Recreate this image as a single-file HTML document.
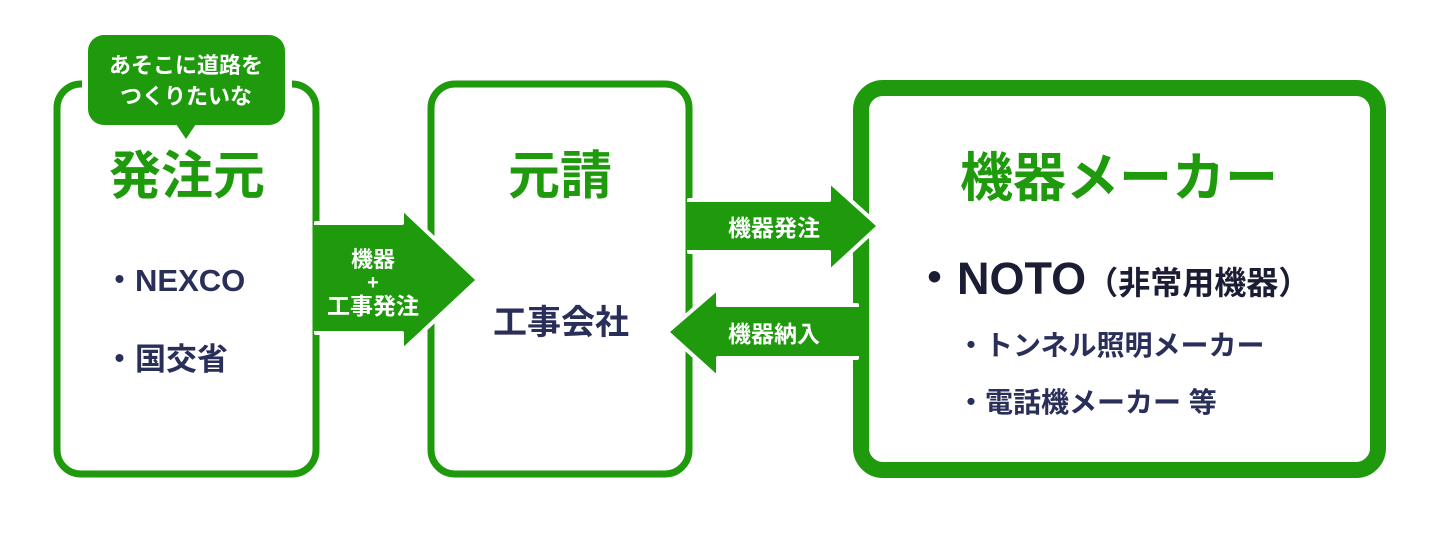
<!DOCTYPE html>
<html><head><meta charset="utf-8"><style>
body{margin:0;background:#fff;width:1440px;height:533px;overflow:hidden}
svg text{font-family:"Liberation Sans","Noto Sans CJK JP",sans-serif;font-weight:bold}
</style></head><body>
<svg width="1440" height="533" viewBox="0 0 1440 533" xmlns="http://www.w3.org/2000/svg">
<g fill="none" stroke="#1e9a0c">
<rect x="57" y="84" width="259" height="390" rx="24" stroke-width="7"/>
<rect x="431" y="84" width="258" height="390" rx="24" stroke-width="7"/>
<rect x="861" y="88" width="517" height="382" rx="22" stroke-width="16"/>
</g>
<rect x="82" y="30" width="210" height="100" fill="#fff"/>
<rect x="88" y="35" width="197" height="90" rx="16" fill="#1e9a0c"/>
<polygon points="176,124 196,124 186,139" fill="#1e9a0c"/>
<text x="186" y="73" font-size="22" fill="#fff" text-anchor="middle">あそこに道路を</text>
<text x="186" y="104" font-size="22" fill="#fff" text-anchor="middle">つくりたいな</text>
<g fill="#1e9a0c" stroke="#fff" stroke-width="4" stroke-linejoin="round">
<polygon points="316,223 402,223 402,208 478,280 402,351 402,333 316,333"/>
<polygon points="689,200 829,200 829,181 879,226 829,272 829,252 689,252"/>
<polygon points="857,305 718,305 718,288 667,332 718,378 718,358 857,358"/>
</g>
<rect x="313" y="225" width="5" height="106" fill="#1e9a0c"/>
<rect x="687" y="202" width="5" height="48" fill="#1e9a0c"/>
<rect x="852" y="307" width="8" height="49" fill="#1e9a0c"/>
<g fill="#fff" text-anchor="middle">
<text x="373" y="267" font-size="22">機器</text>
<text x="373" y="289" font-size="20">+</text>
<text x="373" y="314" font-size="23">工事発注</text>
<text x="774" y="236" font-size="23">機器発注</text>
<text x="774" y="342" font-size="23">機器納入</text>
</g>
<g fill="#1e9a0c" text-anchor="middle">
<text x="187" y="194" font-size="52">発注元</text>
<text x="560" y="194" font-size="52">元請</text>
<text x="1119" y="196" font-size="53">機器メーカー</text>
</g>
<g fill="#2a2f5a">
<text x="104" y="291" font-size="31">・NEXCO</text>
<text x="104" y="370" font-size="31">・国交省</text>
<text x="561" y="334" font-size="34" text-anchor="middle">工事会社</text>
<text x="912" y="294" font-size="45" fill="#1a1d33">・NOTO<tspan font-size="32">（非常用機器）</tspan></text>
<text x="957" y="355" font-size="28">・トンネル照明メーカー</text>
<text x="957" y="412" font-size="28">・電話機メーカー 等</text>
</g>
</svg>
</body></html>
